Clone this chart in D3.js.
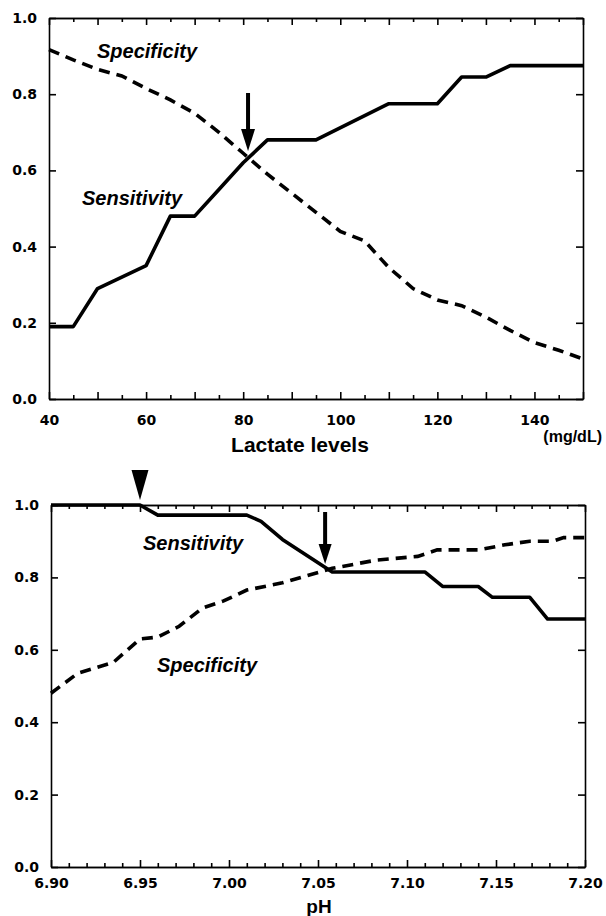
<!DOCTYPE html>
<html>
<head>
<meta charset="utf-8">
<script src="https://cdn.jsdelivr.net/npm/d3@7"></script>
<style>
  body { margin: 0; background: #fff; }
  svg { display: block; }
  .tick text { font-family: "DejaVu Sans", sans-serif; font-weight: bold; font-size: 14px; fill: #000; }
  .lbl { font-family: "Liberation Sans", Arial, sans-serif; font-weight: bold; fill: #000; }
</style>
</head>
<body>
<script>
// top panel: lactate (mg/dL)
const lacSensX = [40, 45, 50, 55, 60, 65, 70, 75, 80, 85, 95, 110, 120, 125, 130, 135, 150];
const lacSensY = [0.19, 0.19, 0.29, 0.32, 0.35, 0.48, 0.48, 0.55, 0.62, 0.68, 0.68, 0.775, 0.775, 0.845, 0.845, 0.875, 0.875];
const lacSpecX = [40, 45, 50, 55, 60, 65, 70, 75, 80, 85, 90, 95, 100, 105, 110, 115, 120, 125, 130, 135, 140, 145, 150];
const lacSpecY = [0.917, 0.89, 0.865, 0.848, 0.815, 0.785, 0.75, 0.7, 0.645, 0.59, 0.54, 0.49, 0.44, 0.415, 0.345, 0.29, 0.26, 0.245, 0.215, 0.18, 0.148, 0.128, 0.105];
const lacLabels = [40, 60, 80, 100, 120, 140];
const lacMajor = d3.range(40, 151, 10);
const lacMinor = d3.range(45, 150, 10);
const lacCutoff = 81; // arrow

// bottom panel: pH
const phSensX = [6.90, 6.95, 6.96, 7.01, 7.018, 7.03, 7.058, 7.11, 7.12, 7.14, 7.148, 7.169, 7.179, 7.20];
const phSensY = [1.0, 1.0, 0.972, 0.972, 0.955, 0.905, 0.815, 0.815, 0.775, 0.775, 0.745, 0.745, 0.685, 0.685];
const phSpecX = [6.90, 6.915, 6.935, 6.95, 6.96, 6.972, 6.985, 6.997, 7.01, 7.03, 7.058, 7.083, 7.106, 7.117, 7.14, 7.155, 7.169, 7.182, 7.188, 7.20];
const phSpecY = [0.48, 0.535, 0.565, 0.63, 0.635, 0.665, 0.715, 0.735, 0.765, 0.785, 0.825, 0.848, 0.858, 0.876, 0.876, 0.89, 0.9, 0.9, 0.91, 0.91];
const phLabels = [6.90, 6.95, 7.00, 7.05, 7.10, 7.15, 7.20];
const phMinor = [6.91, 6.92, 6.93, 6.94, 6.96, 6.97, 6.98, 6.99, 7.01, 7.02, 7.03, 7.04, 7.06, 7.07, 7.08, 7.09, 7.11, 7.12, 7.13, 7.14, 7.16, 7.17, 7.18, 7.19];
const phCutoff = 7.054; // arrow
const phTriangle = 6.95; // arrowhead above frame

const yTicks = [0, 0.2, 0.4, 0.6, 0.8, 1.0];

const svg = d3.select("body")
  .append("svg")
  .attr("width", 606)
  .attr("height", 916);

function styleAxis(g) {
  g.select(".domain").attr("stroke", "#000").attr("stroke-width", 1.6);
  g.selectAll(".tick line").attr("stroke", "#000").attr("stroke-width", 1.6);
}

function panel(o) {
  const x = d3.scaleLinear().domain(o.xDomain).range([o.left, o.right]);
  const y = d3.scaleLinear().domain([0, 1]).range([o.bottom, o.top]);
  const g = svg.append("g");

  // minor ticks, bottom and top
  g.append("g")
    .attr("transform", "translate(0," + o.bottom + ")")
    .call(d3.axisBottom(x).tickValues(o.minor).tickSize(-4).tickSizeOuter(0).tickFormat(""))
    .call(styleAxis);
  g.append("g")
    .attr("transform", "translate(0," + o.top + ")")
    .call(d3.axisTop(x).tickValues(o.minor).tickSize(-4).tickSizeOuter(0).tickFormat(""))
    .call(styleAxis);

  // major ticks without labels
  g.append("g")
    .attr("transform", "translate(0," + o.bottom + ")")
    .call(d3.axisBottom(x).tickValues(o.major).tickSize(-7).tickSizeOuter(0).tickFormat(""))
    .call(styleAxis);
  g.append("g")
    .attr("transform", "translate(0," + o.top + ")")
    .call(d3.axisTop(x).tickValues(o.major).tickSize(-7).tickSizeOuter(0).tickFormat(""))
    .call(styleAxis);

  // x labels
  g.append("g")
    .attr("transform", "translate(0," + o.bottom + ")")
    .call(d3.axisBottom(x).tickValues(o.labels).tickSize(0).tickSizeOuter(0)
      .tickPadding(o.xPad).tickFormat(o.xFormat))
    .call(g => g.select(".domain").remove());

  // y axes
  g.append("g")
    .attr("transform", "translate(" + o.left + ",0)")
    .call(d3.axisLeft(y).tickValues(yTicks).tickSize(-7).tickSizeOuter(0)
      .tickPadding(12).tickFormat(d3.format(".1f")))
    .call(styleAxis);
  g.append("g")
    .attr("transform", "translate(" + o.right + ",0)")
    .call(d3.axisRight(y).tickValues(yTicks).tickSize(-7).tickSizeOuter(0).tickFormat(""))
    .call(styleAxis);

  const line = d3.line().x(d => x(d[0])).y(d => y(d[1]));

  // specificity (dashed)
  g.append("path")
    .datum(d3.zip(o.specX, o.specY))
    .attr("d", line)
    .attr("fill", "none")
    .attr("stroke", "#000")
    .attr("stroke-width", 3.6)
    .attr("stroke-dasharray", "11,7");

  // sensitivity (solid)
  g.append("path")
    .datum(d3.zip(o.sensX, o.sensY))
    .attr("d", line)
    .attr("fill", "none")
    .attr("stroke", "#000")
    .attr("stroke-width", 3.6)
    .attr("stroke-linejoin", "round");

  return { g, x, y };
}

function arrow(g, px, yFrom, yTip, headW, headL) {
  g.append("line")
    .attr("x1", px).attr("x2", px)
    .attr("y1", yFrom).attr("y2", yTip - headL + 2)
    .attr("stroke", "#000")
    .attr("stroke-width", 4);
  g.append("path")
    .attr("d", "M" + (px - headW / 2) + "," + (yTip - headL) + "L" + (px + headW / 2) + "," + (yTip - headL) + "L" + px + "," + yTip + "Z")
    .attr("fill", "#000");
}

// ---- top panel
const lacPanel = panel({
  xDomain: [40, 150], left: 49, right: 583, top: 18, bottom: 399,
  sensX: lacSensX, sensY: lacSensY, specX: lacSpecX, specY: lacSpecY,
  labels: lacLabels, major: lacMajor, minor: lacMinor,
  xPad: 16, xFormat: d3.format("d")
});

arrow(lacPanel.g, lacPanel.x(lacCutoff), 93, 151, 14, 22);

lacPanel.g.append("text").attr("class", "lbl")
  .attr("x", 97).attr("y", 58)
  .style("font-size", "20px").style("font-style", "italic")
  .text("Specificity");
lacPanel.g.append("text").attr("class", "lbl")
  .attr("x", 82).attr("y", 205)
  .style("font-size", "20px").style("font-style", "italic")
  .text("Sensitivity");
lacPanel.g.append("text").attr("class", "lbl")
  .attr("x", 300).attr("y", 452)
  .attr("text-anchor", "middle")
  .style("font-size", "21px")
  .text("Lactate levels");
lacPanel.g.append("text").attr("class", "lbl")
  .attr("x", 602).attr("y", 442)
  .attr("text-anchor", "end")
  .style("font-size", "16px")
  .text("(mg/dL)");

// ---- bottom panel
const phPanel = panel({
  xDomain: [6.9, 7.2], left: 51, right: 585, top: 505, bottom: 867,
  sensX: phSensX, sensY: phSensY, specX: phSpecX, specY: phSpecY,
  labels: phLabels, major: phLabels, minor: phMinor,
  xPad: 11, xFormat: d3.format(".2f")
});

arrow(phPanel.g, phPanel.x(phCutoff), 512, 564, 13, 20);

// filled triangle above the frame
const tx = phPanel.x(phTriangle);
phPanel.g.append("path")
  .attr("d", "M" + (tx - 8.5) + ",470L" + (tx + 8.5) + ",470L" + tx + ",500Z")
  .attr("fill", "#000");

phPanel.g.append("text").attr("class", "lbl")
  .attr("x", 143).attr("y", 550)
  .style("font-size", "20px").style("font-style", "italic")
  .text("Sensitivity");
phPanel.g.append("text").attr("class", "lbl")
  .attr("x", 157).attr("y", 672)
  .style("font-size", "20px").style("font-style", "italic")
  .text("Specificity");
phPanel.g.append("text").attr("class", "lbl")
  .attr("x", 319).attr("y", 913)
  .attr("text-anchor", "middle")
  .style("font-size", "19px")
  .text("pH");
</script>
</body>
</html>
